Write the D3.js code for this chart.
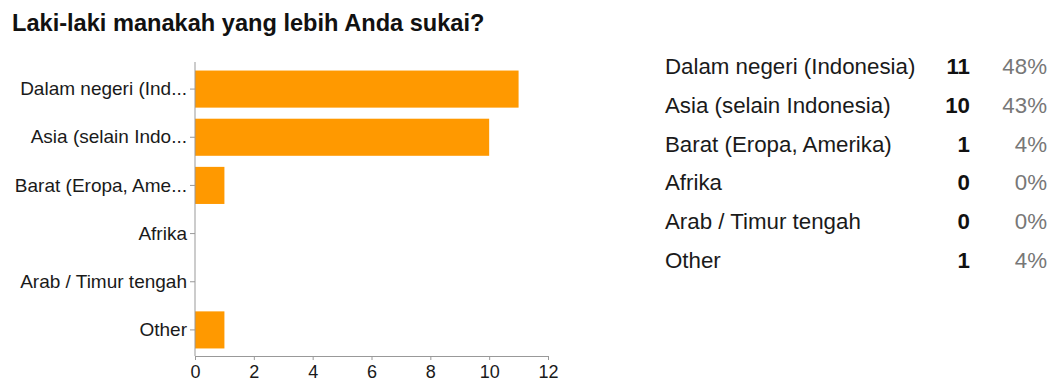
<!DOCTYPE html>
<html>
<head>
<meta charset="utf-8">
<script src="https://cdn.jsdelivr.net/npm/d3@7"></script>
<style>
  html, body { margin: 0; padding: 0; background: #fff; }
  svg { display: block; font-family: "Liberation Sans", Arial, sans-serif; }
</style>
</head>
<body>
<svg id="chart" width="1049" height="381"></svg>
<script>
// Survey question and answers
const title = "Laki-laki manakah yang lebih Anda sukai?";
const categories = [
  "Dalam negeri (Indonesia)",
  "Asia (selain Indonesia)",
  "Barat (Eropa, Amerika)",
  "Afrika",
  "Arab / Timur tengah",
  "Other"
];
const shortLabels = [
  "Dalam negeri (Ind...",
  "Asia (selain Indo...",
  "Barat (Eropa, Ame...",
  "Afrika",
  "Arab / Timur tengah",
  "Other"
];
const counts = [11, 10, 1, 0, 0, 1];
const percents = ["48%", "43%", "4%", "0%", "0%", "4%"];
const xTicks = [0, 2, 4, 6, 8, 10, 12];

const svg = d3.select("#chart");

// Title
svg.append("text")
  .attr("x", 12).attr("y", 31)
  .attr("font-size", 23.6).attr("font-weight", "bold")
  .attr("fill", "#111")
  .text(title);

// Scales
const x = d3.scaleLinear().domain([0, 12]).range([195, 548]);
const y = d3.scaleBand().domain(categories).range([65, 354])
  .paddingInner(0.23).paddingOuter(0.115);

// Bars
svg.append("g").selectAll("rect")
  .data(categories)
  .join("rect")
  .attr("x", x(0))
  .attr("y", d => y(d))
  .attr("width", (d, i) => x(counts[i]) - x(0))
  .attr("height", y.bandwidth())
  .attr("fill", "#ff9900");

// Y axis
const yAxis = svg.append("g")
  .attr("transform", `translate(${x(0)},0)`)
  .call(d3.axisLeft(y).tickSize(5).tickPadding(3)
    .tickFormat((d, i) => shortLabels[i]));
yAxis.select(".domain").attr("stroke", "#999")
  .attr("d", `M0,62V356`);
yAxis.selectAll(".tick line").attr("stroke", "#999");
yAxis.selectAll(".tick text")
  .attr("font-size", 19).attr("fill", "#1a1a1a")
  .attr("font-family", "Liberation Sans, Arial, sans-serif");

// X axis
const xAxis = svg.append("g")
  .attr("transform", "translate(0,356)")
  .call(d3.axisBottom(x).tickValues(xTicks).tickSize(4).tickPadding(5).tickSizeOuter(0));
xAxis.select(".domain").attr("stroke", "#999");
xAxis.selectAll(".tick line").attr("stroke", "#999");
xAxis.selectAll(".tick text")
  .attr("font-size", 18).attr("fill", "#1a1a1a")
  .attr("font-family", "Liberation Sans, Arial, sans-serif");

// Summary table
const rowY = d3.scalePoint().domain(categories).range([66, 260]);
const table = svg.append("g").attr("font-size", 22.3);
table.selectAll("text.lbl")
  .data(categories).join("text")
  .attr("class", "lbl")
  .attr("x", 665).attr("y", d => rowY(d)).attr("dy", "0.36em")
  .attr("fill", "#1a1a1a")
  .text(d => d);
table.selectAll("text.cnt")
  .data(categories).join("text")
  .attr("class", "cnt")
  .attr("x", 970).attr("y", d => rowY(d)).attr("dy", "0.36em")
  .attr("text-anchor", "end").attr("font-weight", "bold")
  .attr("fill", "#111")
  .text((d, i) => counts[i]);
table.selectAll("text.pct")
  .data(categories).join("text")
  .attr("class", "pct")
  .attr("x", 1047).attr("y", d => rowY(d)).attr("dy", "0.36em")
  .attr("text-anchor", "end")
  .attr("fill", "#777")
  .text((d, i) => percents[i]);
</script>
</body>
</html>
